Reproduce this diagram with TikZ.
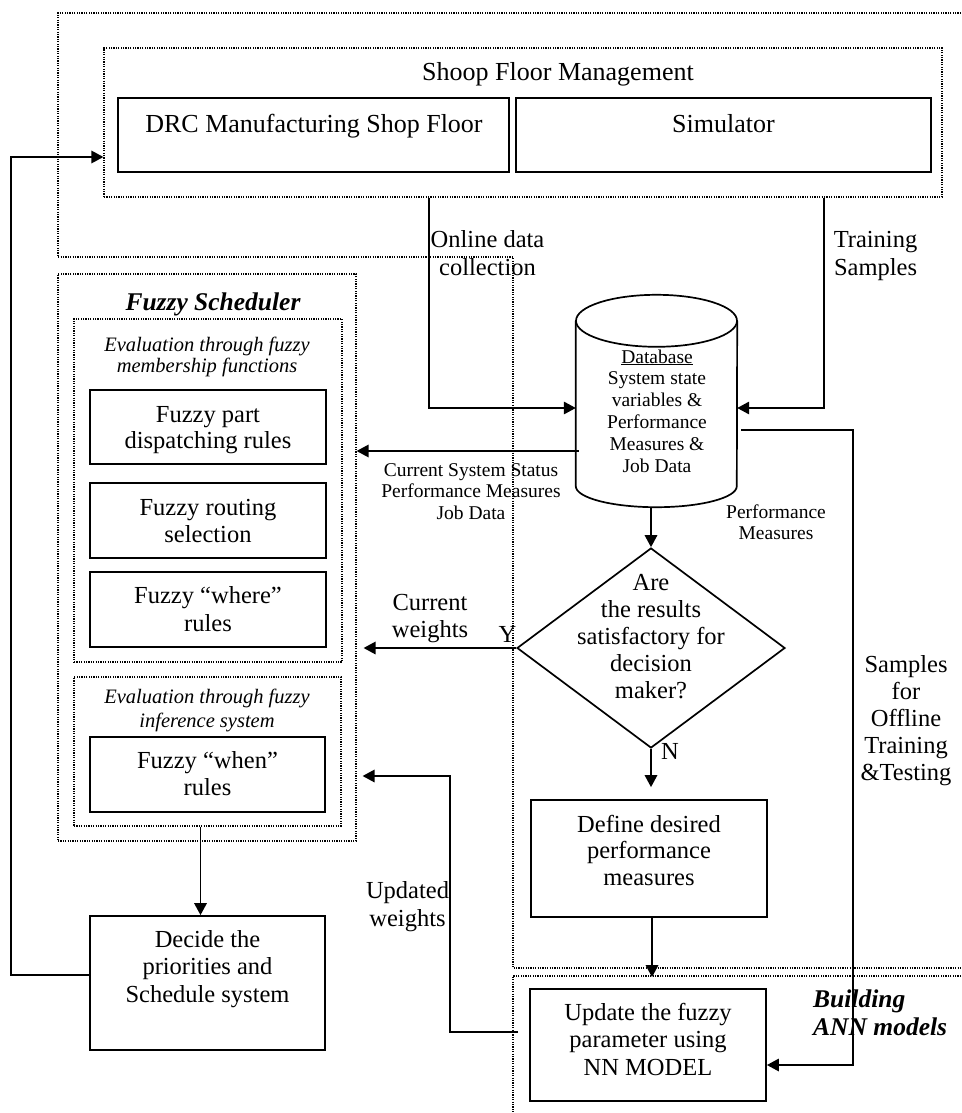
\documentclass[tikz,border=0pt]{standalone}
\usepackage{fontspec}
\setmainfont{Liberation Serif}
\usetikzlibrary{arrows.meta,shapes.geometric}

% font size with explicit line spacing
\newcommand\fs[2]{\fontsize{#1}{#2}\selectfont}
% centred / left-aligned stacks whose baseline is the first line
\newcommand\ml[1]{\begin{tabular}[t]{@{}c@{}}#1\end{tabular}}
\newcommand\mll[1]{\begin{tabular}[t]{@{}l@{}}#1\end{tabular}}

\begin{document}
\begin{tikzpicture}[x=1pt,y=-1pt,
  box/.style={draw, line width=1.8pt, inner sep=0pt},
  dotbox/.style={draw, line width=1.2pt, dash pattern=on 1.2pt off 1.2pt, inner sep=0pt},
  dots/.style={line width=1.2pt, dash pattern=on 1.2pt off 1.2pt},
  conn/.style={line width=1.7pt, -{Triangle[length=12pt,width=12.5pt]}},
  plain/.style={line width=1.7pt},
  txt/.style={anchor=base, inner sep=0pt}]

\useasboundingbox (0,0) rectangle (961,1113);

% ---- dotted regions -------------------------------------------------
\draw[dots] (961,13) -- (58,13) -- (58,257) -- (513,257) -- (513,968) -- (961,968);
\draw[dots] (961,976) -- (513,976) -- (513,1113);

% ---- shop floor management --------------------------------------------
\node[dotbox, minimum width=838pt, minimum height=149pt] (sfm) at (523,122.5) {};
\node[box, minimum width=391pt, minimum height=74pt] (drc) at (313.5,135) {};
\node[box, minimum width=415pt, minimum height=74pt] (sim) at (723.5,135) {};
\node[txt] (tsfm) at (558,81) {\fs{26}{28}Shoop Floor Management};
\node[txt] (tdrc) at (314,132) {\fs{26}{28}DRC Manufacturing Shop Floor};
\node[txt] (tsim) at (723.5,132) {\fs{26}{28}Simulator};

% ---- fuzzy scheduler ------------------------------------------------
\node[dotbox, minimum width=298pt, minimum height=567pt] (sched) at (207,557.5) {};
\node[dotbox, minimum width=268pt, minimum height=343pt] (mem) at (208,490.5) {};
\node[dotbox, minimum width=267pt, minimum height=149pt] (inf) at (207.5,751.5) {};
\node[box, minimum width=236pt, minimum height=74pt] (part) at (208,427) {};
\node[box, minimum width=236pt, minimum height=75pt] (rout) at (208,520.5) {};
\node[box, minimum width=236pt, minimum height=75pt] (where) at (208,609.5) {};
\node[box, minimum width=235pt, minimum height=75pt] (when) at (207.5,774.5) {};
\node[box, minimum width=235pt, minimum height=134pt] (decide) at (207.5,983) {};

\node[txt] (tsched) at (213,310) {\fs{25.5}{28}\bfseries\itshape Fuzzy Scheduler};
\node[txt] (tmem) at (207,351) {\fs{20.5}{21}\itshape\ml{Evaluation through fuzzy\\membership functions}};
\node[txt] (tpart) at (208,422) {\fs{24.5}{26.7}\ml{Fuzzy part\\dispatching rules}};
\node[txt] (trout) at (208,515) {\fs{24.5}{27}\ml{Fuzzy routing\\selection}};
\node[txt] (twhere) at (208,603) {\fs{24.5}{28}\ml{Fuzzy “where”\\rules}};
\node[txt] (tinf) at (207,703) {\fs{20.5}{24}\itshape\ml{Evaluation through fuzzy\\inference system}};
\node[txt] (twhen) at (207.5,768) {\fs{24.5}{27}\ml{Fuzzy “when”\\rules}};
\node[txt] (tdecide) at (207.5,947) {\fs{24.5}{27.5}\ml{Decide the\\priorities and\\Schedule system}};

% ---- database cylinder ------------------------------------------------
\node[inner sep=0pt, minimum width=161pt, minimum height=212pt] (db) at (656.5,401) {};
\draw[plain] ([yshift=-26pt]db.north west) -- ([yshift=21pt]db.south west)
  arc[start angle=180, end angle=360, x radius=80.5pt, y radius=21pt]
  -- ([yshift=-26pt]db.north east);
\draw[plain] ([yshift=-26pt]db.north) ellipse[x radius=80.5pt, y radius=26pt];
\node[txt] (tdb) at (657,363) {\fs{19.5}{21.8}\ml{\underline{Database}\\System state\\variables \&\\Performance\\Measures \&\\Job Data}};

% ---- decision and ANN part -------------------------------------------
\node[draw, diamond, line width=1.7pt, inner sep=0pt, minimum width=268pt, minimum height=200pt] (dia) at (651,648) {};
\node[txt] (tdia) at (651,590) {\fs{24.5}{27}\ml{Are\\the results\\satisfactory for\\decision\\maker?}};
\node[box, minimum width=236pt, minimum height=117pt] (def) at (649,858.5) {};
\node[txt] (tdef) at (649,832) {\fs{24.5}{26.5}\ml{Define desired\\performance\\measures}};
\node[box, minimum width=236pt, minimum height=112pt] (upd) at (648,1045) {};
\node[txt] (tupd) at (648,1020) {\fs{24.5}{27.5}\ml{Update the fuzzy\\parameter using\\NN MODEL}};

% ---- connectors ----------------------------------------------------------
\draw[conn] ([yshift=8pt]decide.west) -- ++(-78,0) |- ([yshift=-34.5pt]sfm.west);
\draw[conn] ([xshift=-94pt]sfm.south) |- ([yshift=-7pt]db.west);
\draw[conn] ([xshift=301pt]sfm.south) |- ([yshift=-7pt]db.east);
\coordinate (dbl) at ([xshift=3pt,yshift=-50pt]db.west);
\draw[conn] (dbl) -- (dbl -| sched.east);
\draw[conn] (db.south -| dia.north) -- (dia.north);
\draw[conn, shorten >=7pt] (dia.west) -- (dia.west -| sched.east);
\draw[conn, shorten >=12pt] (dia.south) -- (dia.south |- def.north);
\draw[conn, shorten >=11pt] ([xshift=3pt]def.south) -- ([xshift=3pt]def.south |- upd.north);
\draw[conn] ([xshift=4pt,yshift=-29pt]db.east) -- ++(112,0) |- ([yshift=-20pt]upd.east);
\draw[conn, shorten <=11pt, shorten >=6pt] ([yshift=13pt]upd.west) -- ++(-79,0) |- ([yshift=-218.5pt]sched.east);
\draw[conn] ([xshift=-7pt]inf.south) -- ([xshift=-7pt]decide.north);

% ---- connector labels ------------------------------------------------
\node[txt] (lonl) at (487.5,247) {\fs{24.5}{28}\ml{Online data\\collection}};
\node[txt] (ltrain) at (875.5,247) {\fs{24.5}{28}\ml{Training\\Samples}};
\node[txt] (lstat) at (471,476) {\fs{19.5}{21.5}\ml{Current System Status\\Performance Measures\\Job Data}};
\node[txt] (lperf) at (776,518) {\fs{19.5}{21}\ml{Performance\\Measures}};
\node[txt] (lcur) at (430,610) {\fs{24.5}{27}\ml{Current\\weights}};
\node[txt] (ly) at (507.5,642) {\fs{24.5}{27}Y};
\node[txt] (ln) at (670,759) {\fs{24.5}{27}N};
\node[txt] (lsamp) at (906,672) {\fs{24.5}{27}\ml{Samples\\for\\Offline\\Training\\\&Testing}};
\node[txt] (lupdw) at (407.5,898) {\fs{24.5}{28.5}\ml{Updated\\weights}};
\node[txt, anchor=base west] (lann) at (813,1007) {\fs{25.5}{28}\bfseries\itshape\mll{Building\\ANN models}};

\end{tikzpicture}
\end{document}
